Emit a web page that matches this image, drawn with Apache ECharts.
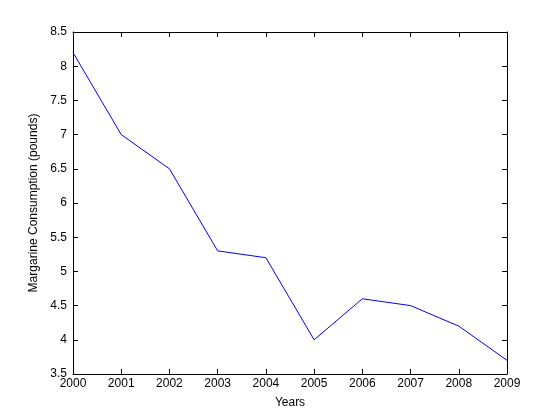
<!DOCTYPE html>
<html><head><meta charset="utf-8">
<script src="https://cdn.jsdelivr.net/npm/echarts@6/dist/echarts.min.js"></script>
<style>html,body{margin:0;padding:0;background:#fff}#c{width:560px;height:420px}</style>
</head><body><div id="c"></div>
<script>
var years = [2000, 2001, 2002, 2003, 2004, 2005, 2006, 2007, 2008, 2009];
var consumption = [8.2, 7.0, 6.5, 5.3, 5.2, 4.0, 4.6, 4.5, 4.2, 3.7];
var xLabel = 'Years';
var yLabel = 'Margarine Consumption (pounds)';
var font = 'Liberation Sans, Arial, sans-serif';
var axisCommon = {
  axisLine: {show: true, lineStyle: {color: '#000', width: 1}},
  axisTick: {show: true, inside: true, length: 5, lineStyle: {color: '#000'}},
  splitLine: {show: false}
};
var chart = echarts.init(document.getElementById('c'));
chart.setOption({
  animation: false,
  backgroundColor: '#fff',
  grid: {left: 73, top: 32, right: 53, bottom: 46, containLabel: false},
  xAxis: [
    Object.assign({type: 'value', min: 2000, max: 2009, interval: 1, position: 'bottom',
      name: xLabel, nameLocation: 'middle', nameGap: 23,
      nameTextStyle: {color: '#000', fontSize: 12, fontFamily: font},
      axisLabel: {color: '#000', fontSize: 12, fontFamily: font, margin: 4, formatter: function(v){return String(v);}}}, axisCommon),
    Object.assign({type: 'value', min: 2000, max: 2009, interval: 1, position: 'top',
      axisLabel: {show: false}}, axisCommon)
  ],
  yAxis: [
    Object.assign({type: 'value', min: 3.5, max: 8.5, interval: 0.5, position: 'left',
      name: yLabel, nameLocation: 'middle', nameGap: 31, nameRotate: 90,
      nameTextStyle: {color: '#000', fontSize: 12, fontFamily: font},
      axisLabel: {color: '#000', fontSize: 12, fontFamily: font, margin: 6, formatter: function(v){return String(v);}}}, axisCommon),
    Object.assign({type: 'value', min: 3.5, max: 8.5, interval: 0.5, position: 'right',
      axisLabel: {show: false}}, axisCommon)
  ],
  series: [{
    type: 'line',
    data: years.map(function(y, i){ return [y, consumption[i]]; }),
    symbol: 'none',
    lineStyle: {color: '#0000ff', width: 1},
    itemStyle: {color: '#0000ff'}
  }]
});
</script></body></html>
